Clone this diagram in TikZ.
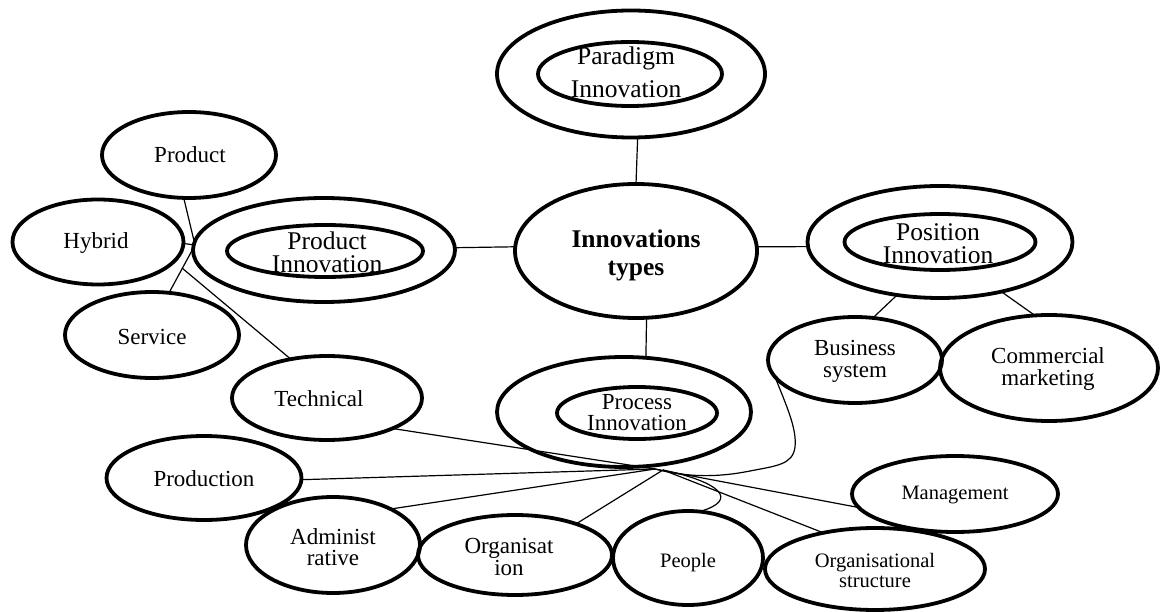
\documentclass[tikz,border=0pt]{standalone}
\usepackage{fontspec}
\setmainfont{Liberation Serif}
\usetikzlibrary{shapes.geometric}
\tikzset{
  ell/.style={ellipse, draw, line width=3.8pt, inner sep=0pt, outer sep=0pt},
  conn/.style={line width=1.2pt},
  txt/.style={align=center, inner sep=0pt},
  big/.style={txt, font=\fontsize{25.5}{23}\selectfont},
  mid/.style={txt, font=\fontsize{23}{21}\selectfont},
  sml/.style={txt, font=\fontsize{20.5}{20}\selectfont},
}
\begin{document}
\begin{tikzpicture}[x=1pt, y=-1pt]
\useasboundingbox (0,0) rectangle (1162,612);
% centre nodes
\node[ell, minimum width=242, minimum height=134] (inn) at (636,251) {};
\node[txt, font=\bfseries\fontsize{25.5}{28}\selectfont] (inn-t) at (636,255) {Innovations\\types};
% Paradigm
\node[ell, minimum width=268, minimum height=127] (par) at (631,74) {};
\node[ell, minimum width=184, minimum height=64] (par-i) at (630,74) {};
\node[big, font=\fontsize{25.5}{33}\selectfont] (par-t) at (626,72) {Paradigm\\Innovation};
% Product innovation
\node[ell, minimum width=262, minimum height=104] (pi) at (324,250) {};
\node[ell, minimum width=196, minimum height=52] (pi-i) at (325,251) {};
\node[big] (pi-t) at (327,252) {Product\\Innovation};
% Position innovation
\node[ell, minimum width=265, minimum height=112] (pos) at (940,242) {};
\node[ell, minimum width=191, minimum height=56] (pos-i) at (940,242) {};
\node[big] (pos-t) at (938,244) {Position\\Innovation};
% Process innovation
\node[ell, minimum width=254, minimum height=110] (proc) at (624,412) {};
\node[ell, minimum width=160, minimum height=52] (proc-i) at (637,413) {};
\node[mid] (proc-t) at (637,413) {Process\\Innovation};
% left cluster
\node[ell, minimum width=174, minimum height=86] (prod) at (189,155) {};
\node[mid] (prod-t) at (190,155) {Product};
\node[ell, minimum width=171, minimum height=85] (hyb) at (98,242) {};
\node[mid] (hyb-t) at (96,243) {Hybrid};
\node[ell, minimum width=174, minimum height=86] (serv) at (152,335) {};
\node[mid] (serv-t) at (152,337) {Service};
\node[ell, minimum width=190, minimum height=84] (tech) at (327,398) {};
\node[mid] (tech-t) at (319,399) {Technical};
% position children
\node[ell, minimum width=174, minimum height=86] (bus) at (855,360) {};
\node[mid, font=\fontsize{23}{22}\selectfont] (bus-t) at (855,361) {Business\\system};
\node[ell, minimum width=218, minimum height=106] (com) at (1049,368) {};
\node[mid, font=\fontsize{23}{22}\selectfont] (com-t) at (1048,369) {Commercial\\marketing};
% process children
\node[ell, minimum width=195, minimum height=84] (pdn) at (204,478) {};
\node[mid] (pdn-t) at (204,479) {Production};
\node[ell, minimum width=174, minimum height=96] (adm) at (333,545) {};
\node[mid] (adm-t) at (333,547) {Administ\\rative};
\node[ell, minimum width=194, minimum height=80] (org) at (515,555) {};
\node[mid, font=\fontsize{23}{22}\selectfont] (org-t) at (509,557) {Organisat\\ion};
\node[ell, minimum width=150, minimum height=94] (peo) at (688,558) {};
\node[sml] (peo-t) at (688,563) {People};
\node[ell, minimum width=220, minimum height=82] (ost) at (875,569) {};
\node[sml] (ost-t) at (875,570) {Organisational\\structure};
\node[ell, minimum width=206, minimum height=76] (man) at (955,494) {};
\node[sml] (man-t) at (955,495) {Management};
% junction points
\coordinate (J) at (195,245);
\coordinate (K) at (182,268);
\coordinate (C) at (655,469);
\coordinate (C2) at (663,470);
% connectors
\draw[conn] (par.-84) -- (inn.90);
\draw[conn] (inn.-81) -- (proc.68);
\draw[conn] (inn.178) -- (pi.1);
\draw[conn] (inn.2) -- (pos.182);
\draw[conn] (prod.-97) -- (J);
\draw[conn] (hyb.-1) -- (J);
\draw[conn] (serv.68) -- (J);
\draw[conn] (K) -- (tech.133);
\draw[conn] (pos.-129) -- (bus.67);
\draw[conn] (pos.-39) -- (com.105);
\draw[conn] (tech.-25) -- (C);
\draw[conn] (pdn.-1) -- (C);
\draw[conn] (adm.32) -- (C);
\draw[conn] (org.27) -- (C2);
\draw[conn] (ost.145) -- (C2);
\draw[conn] (man.-172) -- (C);
\draw[conn] (C2) .. controls (720,482) and (740,500) .. (peo.76);
\draw[conn] (bus.-168) .. controls (786,405) and (797,428) .. (795,447)
  .. controls (793,465) and (775,466) .. (750,471)
  .. controls (720,477) and (690,478) .. (C);
\end{tikzpicture}
\end{document}
